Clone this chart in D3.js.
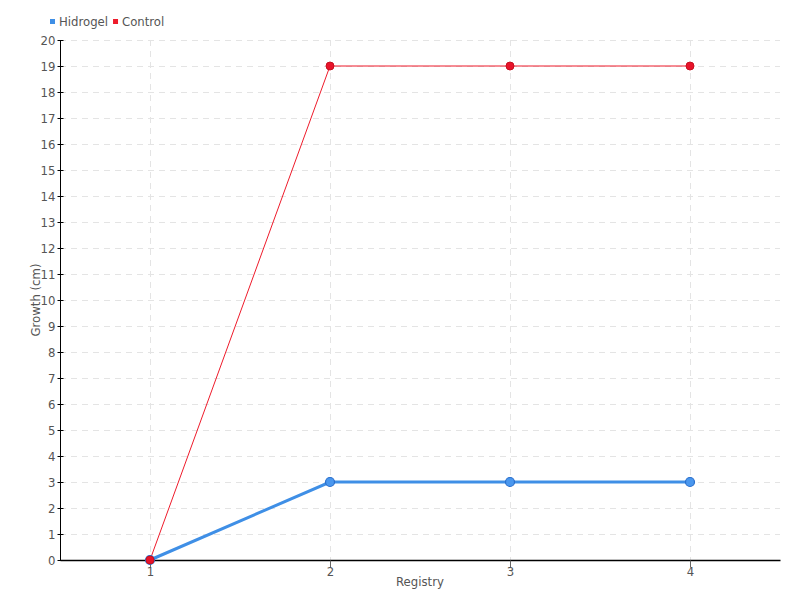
<!DOCTYPE html>
<html><head><meta charset="utf-8">
<script src="https://cdn.jsdelivr.net/npm/d3@7"></script>
<style>
body{margin:0;background:#fff;}
text{font-family:"DejaVu Sans Condensed","Liberation Sans Narrow","Roboto Condensed",sans-serif;}
</style></head>
<body><svg id="c" width="800" height="600"></svg>
<script>
const categories = ["1","2","3","4"];
const hidrogel = [0,3,3,3];
const control = [0,19,19,19];
const yTicks = d3.range(0,21);
const seriesNames = ["Hidrogel","Control"];
const colors = ["#3f8fe6","#ee1b2b"];

const svg = d3.select("#c");
const m = {l:60,r:20,t:40,b:40};
const W = 800, H = 600;
const x = d3.scalePoint().domain(categories).range([m.l, W-m.r]).padding(0.5);
const y = d3.scaleLinear().domain([0,20]).range([H-m.b, m.t]);

// grid
const g = svg.append("g");
g.selectAll("line.h").data(yTicks.filter(d=>d>0)).enter().append("line")
 .attr("x1",m.l).attr("x2",W-m.r).attr("y1",d=>y(d)+0.5).attr("y2",d=>y(d)+0.5)
 .attr("stroke","#e4e4e4").attr("stroke-dasharray","6,5");
g.selectAll("line.v").data(categories).enter().append("line")
 .attr("x1",d=>x(d)+0.5).attr("x2",d=>x(d)+0.5).attr("y1",m.t).attr("y2",H-m.b)
 .attr("stroke","#e4e4e4").attr("stroke-dasharray","6,5");

// axes
const ya = svg.append("g").attr("transform",`translate(${m.l+0.5},0.5)`)
 .call(d3.axisLeft(y).tickValues(yTicks).tickSize(3).tickSizeOuter(0).offset(0));
ya.selectAll(".tick line").attr("x2",3).attr("x1",-3).attr("stroke","#000");
ya.select(".domain").attr("stroke","#000");
ya.selectAll("text").attr("fill","#555").attr("font-size",13).attr("x",-5);

const xa = svg.append("g").attr("transform",`translate(0.5,${H-m.b+0.5})`)
 .call(d3.axisBottom(x).tickSize(7).tickSizeOuter(0).offset(0));
xa.select(".domain").attr("d",`M${m.l},0H${W-m.r}`).attr("stroke","#000").attr("stroke-width",1.3);
xa.selectAll(".tick line").attr("stroke","#666");
xa.selectAll("text").attr("fill","#555").attr("font-size",13).attr("y",6);

// titles
svg.append("text").attr("x",420).attr("y",586).attr("text-anchor","middle")
 .attr("fill","#555").attr("font-size",13).text("Registry");
svg.append("text").attr("transform","translate(40,300) rotate(-90)").attr("text-anchor","middle")
 .attr("fill","#555").attr("font-size",13).text("Growth (cm)");

// lines
const line = d3.line().x((d,i)=>x(categories[i])).y(d=>y(d));
svg.append("path").datum(hidrogel).attr("d",line).attr("fill","none")
 .attr("stroke",colors[0]).attr("stroke-width",3);
svg.append("path").datum(control).attr("d",line).attr("fill","none")
 .attr("stroke",colors[1]).attr("stroke-width",1);
svg.selectAll("circle.h").data(hidrogel).enter().append("circle")
 .attr("cx",(d,i)=>x(categories[i])).attr("cy",d=>y(d)).attr("r",4.5)
 .attr("fill","#4a97ee").attr("stroke","#2a6fcc").attr("stroke-width",1.2);
svg.selectAll("circle.c").data(control).enter().append("circle")
 .attr("cx",(d,i)=>x(categories[i])).attr("cy",d=>y(d)).attr("r",4)
 .attr("fill","#e8132a").attr("stroke","#c8101f").attr("stroke-width",1);

// legend
const lg = svg.append("g");
let lx = 50;
seriesNames.forEach((n,i)=>{
  lg.append("rect").attr("x",lx).attr("y",19).attr("width",5).attr("height",5).attr("fill",colors[i]);
  const t = lg.append("text").attr("x",lx+9).attr("y",26).attr("fill","#555").attr("font-size",13).text(n);
  lx += 9 + t.node().getComputedTextLength() + 5;
});
</script></body></html>
